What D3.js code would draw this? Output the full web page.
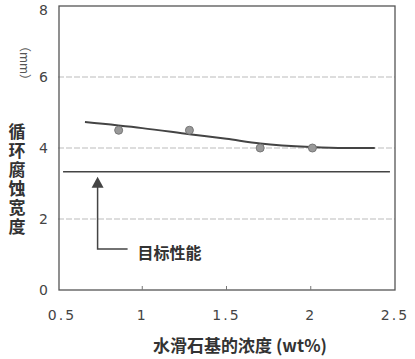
<!DOCTYPE html>
<html><head><meta charset="utf-8">
<script src="https://cdn.jsdelivr.net/npm/d3@7"></script>
<style>body{margin:0;background:#fff}</style>
</head><body><svg id="c" width="415" height="359"></svg>
<script>
const xTicks = [0.5, 1, 1.5, 2, 2.5];
const xTickLabels = ["0.5", "1", "1.5", "2", "2.5"];
const yTicks = [0, 2, 4, 6, 8];
const pointsX = [0.86, 1.28, 1.70, 2.01];
const pointsY = [4.5, 4.5, 4.0, 4.0];
const curveX = [0.66, 1.0, 1.28, 1.5, 1.7, 2.0, 2.2, 2.38];
const curveY = [4.73, 4.56, 4.39, 4.26, 4.13, 4.03, 4.0, 4.0];
const targetY = 3.33;
const targetX = [0.53, 2.47];
const arrowX = 0.735;
const targetLabel = "目标性能";
const yTitle = "循环腐蚀宽度";
const yUnit = "（mm）";
const xTitle = "水滑石基的浓度 (wt%)";

const svg = d3.select("#c");
const x = d3.scaleLinear().domain([0.5, 2.5]).range([58, 395]);
const y = d3.scaleLinear().domain([0, 8]).range([290, 6]);
const font = "'Noto Sans CJK SC', 'Noto Sans', sans-serif";

// grid lines
svg.append("g").selectAll("line").data(yTicks.filter(d => d > 0 && d < 8)).join("line")
  .attr("x1", x(0.5)).attr("x2", x(2.5)).attr("y1", d => y(d)).attr("y2", d => y(d))
  .attr("stroke", "#bbb").attr("stroke-width", 1).attr("stroke-dasharray", "6,2");

// frame
svg.append("rect").attr("x", x(0.5)+1).attr("y", y(8)).attr("width", x(2.5)-x(0.5)-1).attr("height", y(0)-y(8))
  .attr("fill", "none").attr("stroke", "#555").attr("stroke-width", 1.3);

// bottom ticks (inside)
svg.append("g").selectAll("line").data(xTicks.slice(1, -1)).join("line")
  .attr("x1", d => x(d)).attr("x2", d => x(d)).attr("y1", y(0)).attr("y2", y(0) - 4)
  .attr("stroke", "#777");

// y tick labels
svg.append("g").selectAll("text").data(yTicks).join("text")
  .attr("x", 48).attr("y", d => Math.max(y(d) + 5, 15)).attr("text-anchor", "end")
  .attr("font-family", "'DejaVu Sans', sans-serif").attr("font-size", 14).attr("fill", "#444")
  .text(d => d);

// x tick labels
svg.append("g").selectAll("text").data(xTicks).join("text")
  .attr("x", (d, i) => x(d) + (i === 0 ? 4 : 0)).attr("y", 320).attr("text-anchor", "middle")
  .attr("font-family", "'DejaVu Sans', sans-serif").attr("font-size", 14).attr("fill", "#444")
  .attr("letter-spacing", 2)
  .text((d, i) => xTickLabels[i]);

// target line
svg.append("line").attr("x1", x(targetX[0])).attr("x2", x(targetX[1]))
  .attr("y1", y(targetY)).attr("y2", y(targetY)).attr("stroke", "#444").attr("stroke-width", 1.5);

// curve
const pts = curveX.map((d, i) => [d, curveY[i]]);
svg.append("path").datum(pts)
  .attr("d", d3.line().x(d => x(d[0])).y(d => y(d[1])).curve(d3.curveMonotoneX))
  .attr("fill", "none").attr("stroke", "#444").attr("stroke-width", 2);

// points
svg.append("g").selectAll("circle").data(pointsX.map((d, i) => [d, pointsY[i]])).join("circle")
  .attr("cx", d => x(d[0])).attr("cy", d => y(d[1])).attr("r", 4)
  .attr("fill", "#999").attr("stroke", "#777").attr("stroke-width", 1);

// arrow
const ax = x(arrowX);
const tipY = y(targetY) + 5;
svg.append("path")
  .attr("d", `M${ax},${tipY} L${ax-6},${tipY+11} L${ax+6},${tipY+11} Z`)
  .attr("fill", "#444");
svg.append("path")
  .attr("d", `M${ax},${tipY+10} L${ax},249 L${ax+30},249`)
  .attr("fill", "none").attr("stroke", "#444").attr("stroke-width", 1.5);
svg.append("text").attr("x", ax + 40).attr("y", 259)
  .attr("font-family", font).attr("font-size", 16).attr("font-weight", "bold").attr("fill", "#333")
  .text(targetLabel);

// y title
svg.append("text").attr("transform", "translate(20,63) rotate(90)")
  .attr("text-anchor", "middle")
  .attr("font-family", font).attr("font-size", 12).attr("fill", "#555")
  .text(yUnit);
svg.append("text").attr("x", 17).attr("y", 180)
  .attr("text-anchor", "middle")
  .style("writing-mode", "vertical-rl").style("text-orientation", "upright")
  .attr("letter-spacing", 2)
  .attr("font-family", font).attr("font-size", 17).attr("font-weight", "bold").attr("fill", "#333")
  .text(yTitle);

// x title
svg.append("text").attr("x", 240).attr("y", 352).attr("text-anchor", "middle")
  .attr("font-family", font).attr("font-size", 17).attr("font-weight", "bold").attr("fill", "#333")
  .text(xTitle);
</script></body></html>
